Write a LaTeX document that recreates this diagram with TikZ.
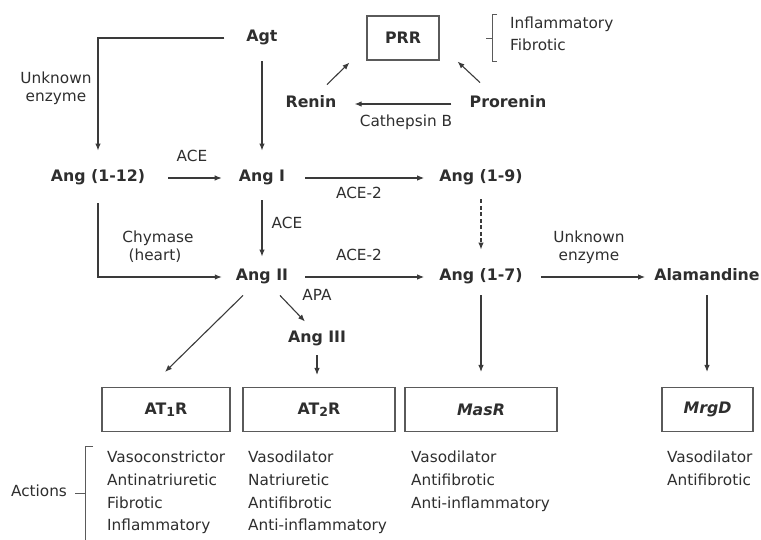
\documentclass[tikz,border=0pt]{standalone}
\usepackage{fontspec}
\setmainfont{DejaVu Sans}
\usetikzlibrary{arrows.meta}
\definecolor{txt}{HTML}{2E2E2E}
\definecolor{lin}{HTML}{3A3A3A}
\definecolor{boxc}{HTML}{5A5A5A}
\begin{document}
\begin{tikzpicture}[x=1pt,y=-1pt,
  mol/.style={font=\bfseries\fontsize{15.8}{18}\selectfont, text=txt, inner sep=0pt, text height=11pt, text depth=3.5pt},
  lab/.style={font=\fontsize{15.3}{17}\selectfont, text=txt, inner sep=0pt, text height=11pt, text depth=3.5pt},
  act/.style={lab, anchor=west},
  arr/.style={-{Latex[length=7pt,width=5.5pt]}, draw=lin, line width=1.1pt},
  rbox/.style={draw=boxc, line width=1.1pt, minimum height=44pt, inner sep=0pt, text=txt, font=\bfseries\fontsize{15.8}{18}\selectfont},
  brk/.style={draw=boxc, line width=1pt}
]
\useasboundingbox (0,0) rectangle (761,540);

% molecules
\node[mol] (agt) at (262,38) {Agt};
\node[rbox, minimum width=72pt] (prr) at (403,38) {PRR};
\node[mol] (renin) at (311,104) {Renin};
\node[mol] (prorenin) at (508,104) {Prorenin};
\node[mol] (a112) at (98,178) {Ang (1-12)};
\node[mol] (a1) at (262,178) {Ang I};
\node[mol] (a19) at (481,178) {Ang (1-9)};
\node[mol] (a2) at (262,277) {Ang II};
\node[mol] (a17) at (481,277) {Ang (1-7)};
\node[mol] (ala) at (707,277) {Alamandine};
\node[mol] (a3) at (317,339) {Ang III};

% receptor boxes
\node[rbox, minimum width=128pt] (at1) at (166,409.5) {AT{\fontsize{12.5}{12}\selectfont\raisebox{-2.5pt}{1}}R};
\node[rbox, minimum width=152pt] (at2) at (319,409.5) {AT{\fontsize{12.5}{12}\selectfont\raisebox{-2.5pt}{2}}R};
\node[rbox, minimum width=152pt] (masr) at (481,409.5) {\itshape MasR};
\node[rbox, minimum width=91pt] (mrgd) at (707.5,409.5) {\itshape MrgD};

% enzyme labels
\node[lab] (unk1a) at (56,80) {Unknown};
\node[lab] (unk1b) at (56,98) {enzyme};
\node[lab] (cat) at (406,123) {Cathepsin B};
\node[lab] (ace1) at (192,158) {ACE};
\node[lab] (ace2a) at (359,195) {ACE-2};
\node[lab] (ace3) at (287,225) {ACE};
\node[lab] (chy) at (158,239) {Chymase};
\node[lab] (hrt) at (155,257) {(heart)};
\node[lab] (ace2b) at (359,257) {ACE-2};
\node[lab] (unk2a) at (589,239) {Unknown};
\node[lab] (unk2b) at (589,257) {enzyme};
\node[lab] (apa) at (317,297) {APA};

% PRR actions
\node[act] (pinf) at (510,25) {Inflammatory};
\node[act] (pfib) at (510,47) {Fibrotic};
\draw[brk] (497,15) -- (492,15) -- (492,62) -- (497,62);
\draw[brk] (486,39) -- (492,39);

% connectors
\draw[arr] ([xshift=-22pt]agt.west) -| ([yshift=20pt]a112.north);
\draw[arr] ([yshift=-16pt]agt.south) -- ([yshift=20pt]a1.north);
\draw[arr] ([xshift=16pt,yshift=12pt]renin.north) -- ([xshift=-17pt,yshift=-2pt]prr.south west);
\draw[arr] ([xshift=-28pt,yshift=14pt]prorenin.north) -- ([xshift=18pt,yshift=-1pt]prr.south east);
\draw[arr, shorten <=18pt, shorten >=18pt] (prorenin.west) -- (renin.east);
\draw[arr, shorten <=23pt, shorten >=17pt] (a112.east) -- (a1.west);
\draw[arr, shorten <=20pt, shorten >=15pt] (a1.east) -- (a19.west);
\draw[arr, shorten <=15pt, shorten >=13pt] (a1.south) -- (a2.north);
\draw[arr] ([yshift=-18pt]a112.south) |- ([xshift=-14pt]a2.west);
\draw[arr, shorten <=17pt, shorten >=15pt] (a2.east) -- (a17.west);
\draw[arr, dash pattern=on 4pt off 2.5pt, shorten <=14pt, shorten >=20pt] (a19.south) -- (a17.north);
\draw[arr, shorten <=18pt, shorten >=9pt] (a17.east) -- (ala.west);
\draw[arr] ([xshift=-19pt,yshift=-11pt]a2.south) -- ([xshift=-1pt,yshift=15pt]at1.north);
\draw[arr] ([xshift=18pt,yshift=-11pt]a2.south) -- ([xshift=-12pt,yshift=10pt]a3.north);
\draw[arr, shorten <=9pt, shorten >=12pt] (a3.south) -- (a3.south |- at2.north);
\draw[arr, shorten <=11pt, shorten >=15pt] (a17.south) -- (masr.north);
\draw[arr, shorten <=11pt, shorten >=15pt] (ala.south) -- (ala.south |- mrgd.north);

% actions
\node[lab] (actions) at (39,493) {Actions};
\draw[brk] (93,446) -- (85,446) -- (85,541);
\draw[brk] (75,493) -- (85,493);

\node[act] (c1a) at (107,459) {Vasoconstrictor};
\node[act] (c1b) at (107,482) {Antinatriuretic};
\node[act] (c1c) at (107,505) {Fibrotic};
\node[act] (c1d) at (107,527) {Inflammatory};

\node[act] (c2a) at (248,459) {Vasodilator};
\node[act] (c2b) at (248,482) {Natriuretic};
\node[act] (c2c) at (248,505) {Antifibrotic};
\node[act] (c2d) at (248,527) {Anti-inflammatory};

\node[act] (c3a) at (411,459) {Vasodilator};
\node[act] (c3b) at (411,482) {Antifibrotic};
\node[act] (c3c) at (411,505) {Anti-inflammatory};

\node[act] (c4a) at (667,459) {Vasodilator};
\node[act] (c4b) at (667,482) {Antifibrotic};
\end{tikzpicture}
\end{document}
